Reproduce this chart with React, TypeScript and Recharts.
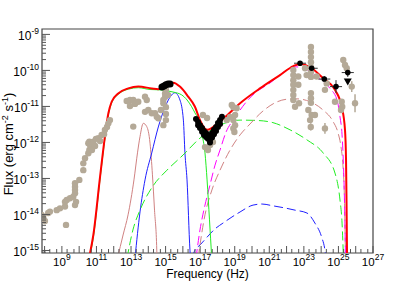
import React from 'react'
import { ComposedChart, Line, Scatter, XAxis, YAxis, ErrorBar, ReferenceArea } from 'recharts'

type Pt = [number, number]

// axis ranges in log10 units
const X_MIN = 7.85
const X_MAX = 27
const Y_MIN = -15.07
const Y_MAX = -8.85

const xLabelDecades = [9, 11, 13, 15, 17, 19, 21, 23, 25, 27]
const xDecades = [8, 9, 10, 11, 12, 13, 14, 15, 16, 17, 18, 19, 20, 21, 22, 23, 24, 25, 26, 27]
const yDecades = [-15, -14, -13, -12, -11, -10, -9]

// model curves [log nu, log nuFnu]
const redTotal: Pt[] = [
  [10.57, -15.21], [10.82, -14.57], [11.21, -12.95], [11.49, -11.84], [11.69, -11.19], [11.88, -10.87],
  [12.26, -10.64], [12.84, -10.5], [13.42, -10.45], [14.2, -10.5], [14.58, -10.52], [14.97, -10.41],
  [15.45, -10.34], [15.83, -10.45], [16.31, -10.73], [16.7, -11.01], [16.99, -11.38], [17.4, -11.65],
  [18.15, -11.42], [19.31, -10.91], [20.46, -10.5], [21.62, -10.13], [22.39, -9.88], [22.78, -9.82],
  [23.45, -9.94], [24.12, -10.22], [24.8, -10.54], [25.19, -11.01], [25.38, -11.65], [25.44, -12.49],
  [25.47, -13.74], [25.5, -15.21],
]
const greenSolid: Pt[] = [
  [10.6, -15.21], [10.84, -14.57], [11.22, -12.97], [11.5, -11.86], [11.7, -11.21], [11.89, -10.89],
  [12.27, -10.66], [12.85, -10.52], [13.42, -10.48], [14.1, -10.53], [14.68, -10.54], [15.43, -10.6],
  [15.93, -10.68], [16.24, -10.82], [16.51, -11.01], [16.7, -11.18], [16.99, -11.47], [17.09, -11.74],
  [17.28, -12.29], [17.4, -13.04], [17.54, -14.15], [17.67, -15.21],
]
const blueSolid: Pt[] = [
  [13.23, -15.21], [13.52, -13.93], [13.81, -13.04], [14.2, -12.29], [14.58, -11.57], [14.97, -11.02],
  [15.35, -10.68], [15.54, -10.62], [15.83, -10.82], [16.03, -11.38], [16.12, -12.29], [16.24, -13.04],
  [16.41, -14.99], [16.44, -15.21],
]
const rosySolid: Pt[] = [
  [12.22, -15.21], [12.54, -14.57], [12.83, -14.01], [13.17, -13.04], [13.38, -12.27], [13.52, -11.84],
  [13.71, -11.47], [13.91, -11.56], [14.1, -12.02], [14.24, -12.9], [14.36, -13.88], [14.49, -14.99],
  [14.5, -15.21],
]
const greenDashed: Pt[] = [
  [12.77, -15.21], [13.11, -14.43], [13.52, -13.88], [14.27, -13.21], [15.08, -12.77], [16.01, -12.35],
  [16.99, -11.88], [18.15, -11.52], [19.31, -11.38], [20.29, -11.39], [21.21, -11.45], [22.2, -11.65],
  [23.18, -11.93], [24.11, -12.29], [24.8, -12.85], [25.09, -13.6], [25.21, -14.24], [25.29, -15.21],
]
const magentaDashed: Pt[] = [
  [16.76, -15.21], [16.99, -14.43], [17.28, -13.74], [17.57, -13.18], [17.86, -12.63], [18.15, -12.21],
  [18.5, -11.71], [18.9, -11.38], [19.31, -11.1], [19.71, -10.85], [20.17, -10.63], [21.04, -10.35],
  [22.02, -9.99], [22.49, -9.9], [22.95, -9.93], [23.76, -10.18], [24.51, -10.5], [24.92, -10.82],
  [25.09, -11.29], [25.21, -11.79], [25.28, -12.49], [25.35, -13.6], [25.41, -15.21],
]
const rosyDashed: Pt[] = [
  [16.88, -15.21], [17.28, -14.01], [17.68, -13.32], [18.15, -12.77], [18.73, -12.21], [19.31, -11.79],
  [19.88, -11.49], [20.58, -11.15], [21.33, -10.9], [22.02, -10.8], [22.6, -10.79], [23.36, -10.87],
  [24.11, -11.1], [24.69, -11.42], [24.98, -11.74], [25.15, -12.13], [25.26, -12.63], [25.35, -13.6],
  [25.41, -15.21],
]
const blueDashed: Pt[] = [
  [16.53, -15.21], [16.7, -14.99], [16.99, -14.85], [17.4, -14.63], [17.86, -14.4], [18.32, -14.24],
  [18.84, -14.07], [19.31, -13.93], [20.06, -13.74], [20.58, -13.71], [21.21, -13.76], [21.91, -13.82],
  [22.49, -13.88], [23.18, -13.96], [23.64, -14.24], [24.03, -14.63], [24.22, -14.99], [24.28, -15.21],
]

// archival data (grey)
const radioGray: Pt[] = [
  [7.83, -14.01], [7.93, -14.1], [8.02, -14.18], [8.21, -13.96], [8.31, -13.92], [8.7, -13.88],
  [8.89, -13.83], [9.18, -13.78], [9.18, -13.65], [9.28, -13.6], [9.24, -14.29], [9.47, -13.55],
  [9.66, -13.51], [9.76, -13.74], [9.82, -13.65], [9.76, -13.41], [9.76, -13.32], [9.76, -13.23],
  [9.76, -13.13], [10.01, -13.04], [10.24, -12.77], [10.24, -12.58], [10.34, -12.44], [10.53, -12.3],
  [10.59, -12.21], [10.53, -12.02], [10.59, -11.98], [10.63, -12.07],
]
const irGray: Pt[] = [
  [10.74, -12.21], [10.82, -11.98], [10.92, -12.1], [10.97, -11.9], [11.11, -11.88], [11.21, -11.96],
  [11.3, -11.79], [11.44, -11.77], [11.49, -11.65], [11.61, -11.57], [11.69, -11.47], [11.78, -11.38],
  [12.75, -10.85], [12.94, -10.82], [13.13, -10.82], [13.23, -10.93], [13.42, -10.87], [12.94, -10.99],
  [13.13, -11.56],
]
const opticalGray: Pt[] = [
  [13.81, -10.73], [13.91, -10.82], [13.81, -11.15], [14.0, -11.1], [14.2, -11.19], [14.39, -11.19],
  [14.49, -11.29], [14.58, -11.33], [14.73, -11.1], [14.87, -10.91], [14.97, -10.64], [14.97, -10.74],
  [14.87, -10.82], [14.87, -11.52], [15.02, -10.54], [15.02, -11.02], [15.02, -11.21], [15.02, -11.38],
  [15.14, -10.68],
]
const xrayGray: Pt[] = [
  [17.16, -11.24], [17.4, -11.32], [17.28, -12.13], [17.57, -12.07], [17.74, -11.99], [17.45, -12.21],
  [18.54, -11.38], [18.73, -11.29], [18.83, -10.96], [18.92, -11.02], [19.11, -11.05], [18.92, -11.38],
  [19.02, -11.52], [18.92, -11.61], [18.98, -11.71], [19.02, -11.24],
]
const gammaGray: Pt[] = [
  [22.39, -9.99], [22.39, -10.13], [22.39, -10.27], [22.39, -10.4], [22.39, -10.54], [22.39, -10.68],
  [22.39, -10.82], [22.49, -11.01], [22.68, -10.17], [22.72, -10.91], [22.68, -10.4], [23.41, -9.35],
  [23.41, -9.49], [23.41, -9.63], [23.41, -9.77], [23.41, -9.91], [23.41, -10.04], [23.41, -10.18],
  [23.41, -10.63], [23.41, -10.77], [23.41, -10.9], [23.26, -11.1], [23.45, -11.24], [23.64, -11.24],
  [23.36, -11.38], [23.07, -9.94], [23.16, -10.13], [23.74, -10.17], [24.22, -10.54], [24.32, -10.36],
  [24.8, -10.87], [25.19, -10.87], [25.22, -11.01], [25.15, -11.1], [25.28, -9.71], [25.38, -9.85],
  [25.48, -9.94],
]
// [x, y, yErr]
const gammaGrayErr: [number, number, number][] = [
  [25.77, -10.45, 0.15], [25.96, -10.91, 0.25], [24.22, -11.61, 0.15], [23.4, -11.57, 0.1],
]

// simultaneous data (black)
const opticalBlack: Pt[] = [[14.79, -10.46], [14.91, -10.43], [15.02, -10.4], [15.14, -10.38], [15.26, -10.38]]
const xrayBlack: Pt[] = [
  [16.76, -11.35], [16.88, -11.43], [16.99, -11.52], [17.11, -11.6], [17.22, -11.68], [17.34, -11.74],
  [17.45, -11.79], [17.57, -11.82], [17.69, -11.74], [17.8, -11.65], [17.92, -11.57], [18.03, -11.46],
  [18.15, -11.38], [18.26, -11.29], [16.88, -11.52], [16.99, -11.6], [17.11, -11.7], [17.22, -11.79],
  [17.34, -11.85], [17.45, -11.9], [17.57, -11.93], [17.69, -11.86], [17.8, -11.77], [17.92, -11.68],
  [18.03, -11.57], [18.15, -11.49], [17.57, -12.0],
]
// [x, y, xErr, yErr]
const gammaBlack: [number, number, number, number][] = [
  [22.78, -9.8, 0.35, 0.05], [23.45, -9.94, 0.35, 0.05], [24.18, -10.24, 0.35, 0.08],
  [24.86, -10.45, 0.35, 0.18], [25.54, -10.06, 0.35, 0.12],
]
const gammaUpperLimit: Pt[] = [[25.54, -10.31]]

const GRAY = '#b4a997'
const ROSY = '#d08282'
const FONT = 'Liberation Sans, Arial, Helvetica, sans-serif'

const toXY = (pts: Pt[]) => pts.map(([x, y]) => ({ x, y }))

const xTicks: number[] = []
xDecades.forEach((n) => {
  ;[0, Math.log10(2), Math.log10(5)].forEach((f) => {
    const v = n + f
    if (v >= X_MIN && v <= X_MAX) xTicks.push(v)
  })
})
const yTicks: number[] = []
yDecades.concat([-16]).forEach((n) => {
  for (let k = 1; k <= 9; k++) {
    const v = n + Math.log10(k)
    if (v >= Y_MIN && v <= Y_MAX) yTicks.push(v)
  }
})

const isInt = (v: number) => Math.abs(v - Math.round(v)) < 1e-6

const XTick = (props: any) => {
  const { x, y, payload } = props
  const v = payload.value
  const major = isInt(v)
  const label = major && xLabelDecades.includes(Math.round(v))
  return (
    <g>
      <line x1={x} x2={x} y1={y} y2={y - (major ? 7 : 4)} stroke="#555" />
      {label && (
        <text x={x} y={y + 12.5} textAnchor="middle" fontSize={11.5} fontFamily={FONT} fill="#000">
          <tspan>10</tspan>
          <tspan dy={-6} fontSize={8.5}>{Math.round(v)}</tspan>
        </text>
      )}
    </g>
  )
}

const YTick = (props: any) => {
  const { x, y, payload } = props
  const v = payload.value
  const major = isInt(v)
  return (
    <g>
      <line x1={x} x2={x + (major ? 8 : 4)} y1={y} y2={y} stroke="#555" />
      {major && (
        <text x={x - 3} y={y + 5.5} textAnchor="end" fontSize={12} fontFamily={FONT} fill="#000">
          <tspan>10</tspan>
          <tspan dy={-6} fontSize={8.5}>{'-' + Math.abs(Math.round(v))}</tspan>
        </text>
      )}
    </g>
  )
}

const XTitle = (p: any) => {
  const vb = p.viewBox || { x: 42, y: 253, width: 331, height: 28 }
  return (
    <text x={vb.x + vb.width / 2} y={vb.y + 25} textAnchor="middle" fontSize={12} fontFamily={FONT} fill="#000">
      Frequency (Hz)
    </text>
  )
}

const YTitle = (p: any) => {
  const vb = p.viewBox || { x: 0, y: 29, width: 42, height: 224 }
  const cx = 13
  const cy = vb.y + vb.height / 2 + 3
  return (
    <text x={cx} y={cy} transform={`rotate(-90 ${cx} ${cy})`} textAnchor="middle" fontSize={13} fontFamily={FONT} fill="#000">
      <tspan>Flux (erg cm</tspan>
      <tspan dy={-5} fontSize={9}>-2</tspan>
      <tspan dy={5}> s</tspan>
      <tspan dy={-5} fontSize={9}>-1</tspan>
      <tspan dy={5}>)</tspan>
    </text>
  )
}

const dot = (r: number, fill: string) => (p: any) => <circle cx={p.cx} cy={p.cy} r={r} fill={fill} />

const downTriangle = (p: any) => (
  <path d={`M${p.cx - 4},${p.cy - 3} L${p.cx + 4},${p.cy - 3} L${p.cx},${p.cy + 4} Z`} fill="#000" />
)

const curve = (data: Pt[], color: string, width: number, dash?: string) => (
  <Line
    data={toXY(data)}
    dataKey="y"
    type="monotone"
    stroke={color}
    strokeWidth={width}
    strokeDasharray={dash}
    dot={false}
    activeDot={false}
    isAnimationActive={false}
  />
)

export default function App() {
  return (
    <div style={{ position: 'absolute', left: 0, top: 0, width: 415, height: 281, background: '#fff' }}>
      <ComposedChart width={415} height={281} margin={{ top: 29, right: 42, bottom: 0, left: 0 }}>
        <XAxis
          type="number"
          dataKey="x"
          domain={[X_MIN, X_MAX]}
          allowDataOverflow
          ticks={xTicks}
          interval={0}
          tick={XTick}
          tickLine={false}
          axisLine={false}
          tickSize={0}
          tickMargin={0}
          height={28}
          label={{ content: (p: any) => <XTitle {...p} /> }}
        />
        <YAxis
          type="number"
          dataKey="y"
          domain={[Y_MIN, Y_MAX]}
          allowDataOverflow
          ticks={yTicks}
          interval={0}
          tick={YTick}
          tickLine={false}
          axisLine={false}
          tickSize={0}
          tickMargin={0}
          width={42}
          label={{ content: (p: any) => <YTitle {...p} /> }}
        />

        <Scatter data={toXY(radioGray)} shape={dot(3.2, GRAY)} isAnimationActive={false} />
        <Scatter data={toXY(irGray)} shape={dot(3.2, GRAY)} isAnimationActive={false} />
        <Scatter data={toXY(opticalGray)} shape={dot(3.2, GRAY)} isAnimationActive={false} />
        <Scatter data={toXY(xrayGray)} shape={dot(3.2, GRAY)} isAnimationActive={false} />
        <Scatter data={toXY(gammaGray)} shape={dot(3.2, GRAY)} isAnimationActive={false} />
        <Scatter
          data={gammaGrayErr.map(([x, y, ey]) => ({ x, y, ey }))}
          shape={dot(3.2, GRAY)}
          isAnimationActive={false}
        >
          <ErrorBar dataKey="ey" direction="y" width={0} stroke={GRAY} strokeWidth={1.5} />
        </Scatter>

        {curve(rosySolid, ROSY, 1)}
        {curve(blueSolid, '#2020ff', 1)}
        {curve(blueDashed, '#2020ff', 1, '9 4')}
        {curve(greenDashed, '#22ee22', 1, '9 4')}
        {curve(rosyDashed, ROSY, 1, '9 4')}
        {curve(magentaDashed, '#ff00ff', 1, '9 4')}
        {curve(greenSolid, '#22ee22', 1)}
        {curve(redTotal, '#ff0000', 2)}

        <Scatter data={toXY(opticalBlack)} shape={dot(3.5, '#000')} isAnimationActive={false} />
        <Scatter data={toXY(xrayBlack)} shape={dot(3.0, '#000')} isAnimationActive={false} />
        <Scatter
          data={gammaBlack.map(([x, y, ex, ey]) => ({ x, y, ex, ey }))}
          shape={dot(2.8, '#000')}
          isAnimationActive={false}
        >
          <ErrorBar dataKey="ex" direction="x" width={0} stroke="#333" strokeWidth={1} />
          <ErrorBar dataKey="ey" direction="y" width={0} stroke="#333" strokeWidth={1} />
        </Scatter>
        <Scatter data={toXY(gammaUpperLimit)} shape={downTriangle} isAnimationActive={false} />

        <ReferenceArea x1={X_MIN} x2={X_MAX} y1={Y_MIN} y2={Y_MAX} fill="none" stroke="#444" strokeWidth={1.2} />
      </ComposedChart>
    </div>
  )
}
